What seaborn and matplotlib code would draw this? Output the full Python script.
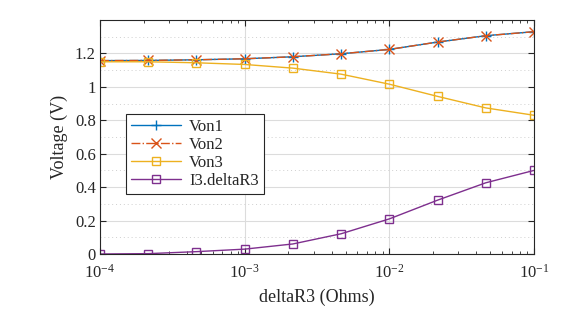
import numpy as np
import pandas as pd
import matplotlib
matplotlib.use("Agg")
import matplotlib.pyplot as plt
import matplotlib.ticker as mticker
import seaborn as sns

x_vals = [1e-4, 2.154e-4, 4.642e-4, 1e-3, 2.154e-3, 4.642e-3, 1e-2, 2.154e-2, 4.642e-2, 1e-1]
von1 = [1.157, 1.158, 1.162, 1.168, 1.180, 1.198, 1.224, 1.268, 1.306, 1.330]
von2 = [1.157, 1.158, 1.162, 1.168, 1.180, 1.198, 1.224, 1.268, 1.306, 1.330]
von3 = [1.150, 1.150, 1.144, 1.134, 1.112, 1.076, 1.016, 0.943, 0.874, 0.830]
i3 = [0.000, 0.002, 0.014, 0.029, 0.060, 0.121, 0.210, 0.322, 0.426, 0.500]
series_names = ["Von1", "Von2", "Von3", "I3.deltaR3"]
xticks = [1e-4, 1e-3, 1e-2, 1e-1]
yticks = [0, 0.2, 0.4, 0.6, 0.8, 1, 1.2]
ytick_labels = ["0", "0.2", "0.4", "0.6", "0.8", "1", "1.2"]

sns.set_style("ticks")
plt.rcParams["font.family"] = ["Liberation Serif", "DejaVu Serif"]
plt.rcParams["mathtext.fontset"] = "custom"
plt.rcParams["mathtext.rm"] = "Liberation Serif"
plt.rcParams["mathtext.it"] = "Liberation Serif:italic"

fig = plt.figure(figsize=(5.8, 3.15), dpi=100)
ax = fig.add_axes([0.1724, 0.1937, 0.9207 - 0.1724, 0.9365 - 0.1937])

colors = ["#0072BD", "#D95319", "#EDB120", "#7E2F8E"]
styles = [("-", "+", "full"), ("-.", "x", "full"), ("-", "s", "none"), ("-", "s", "none")]
data = [von1, von2, von3, i3]

for name, ys, c, (ls, mk, fill) in zip(series_names, data, colors, styles):
    df = pd.DataFrame({"x": x_vals, "y": ys})
    kw = dict(markersize=6 if mk == "s" else 7.5, markeredgewidth=1.0)
    if fill == "none":
        kw["markerfacecolor"] = "none"
    sns.lineplot(data=df, x="x", y="y", ax=ax, color=c, linestyle=ls, marker=mk,
                 markeredgecolor=c, linewidth=1.0, label=name, **kw)

ax.set_xscale("log")
ax.set_xlim(1e-4, 1e-1)
ax.set_ylim(0, 1.4)
ax.set_xticks(xticks)
ax.xaxis.set_major_formatter(mticker.LogFormatterMathtext())
ax.xaxis.set_minor_locator(mticker.LogLocator(base=10, subs=np.arange(2, 10)))
ax.xaxis.set_minor_formatter(mticker.NullFormatter())
ax.set_yticks(yticks)
ax.set_yticklabels(ytick_labels)
ax.yaxis.set_minor_locator(mticker.MultipleLocator(0.1))

ax.grid(True, which="major", color="#dcdcdc", linewidth=0.8)
ax.grid(True, which="minor", axis="y", color="#cfcfcf", linestyle=(0, (1, 3)), linewidth=0.7)
ax.set_axisbelow(True)

ax.tick_params(which="both", direction="in", top=True, right=True, labelsize=12, colors="#262626")
ax.tick_params(which="major", length=4, width=0.8)
ax.tick_params(axis="x", which="major", pad=7)
ax.tick_params(axis="y", which="major", pad=3)
ax.tick_params(which="minor", axis="x", length=2.5, width=0.6)
ax.tick_params(which="minor", axis="y", length=0)
for sp in ax.spines.values():
    sp.set_visible(True)
    sp.set_color("#262626")
    sp.set_linewidth(0.8)

ax.set_xlabel("deltaR3 (Ohms)", fontsize=13, color="#262626", labelpad=5)
ax.set_ylabel("Voltage (V)", fontsize=13, color="#262626", labelpad=5)

leg = ax.legend(loc="upper left", bbox_to_anchor=(0.059, 0.598), fontsize=12,
                handlelength=3.0, frameon=True, fancybox=False, edgecolor="#262626",
                borderpad=0.3, labelspacing=0.12, handletextpad=0.5, borderaxespad=0)
leg.get_frame().set_linewidth(0.8)
leg.get_frame().set_alpha(1)

fig.savefig("out.png", dpi=100)
